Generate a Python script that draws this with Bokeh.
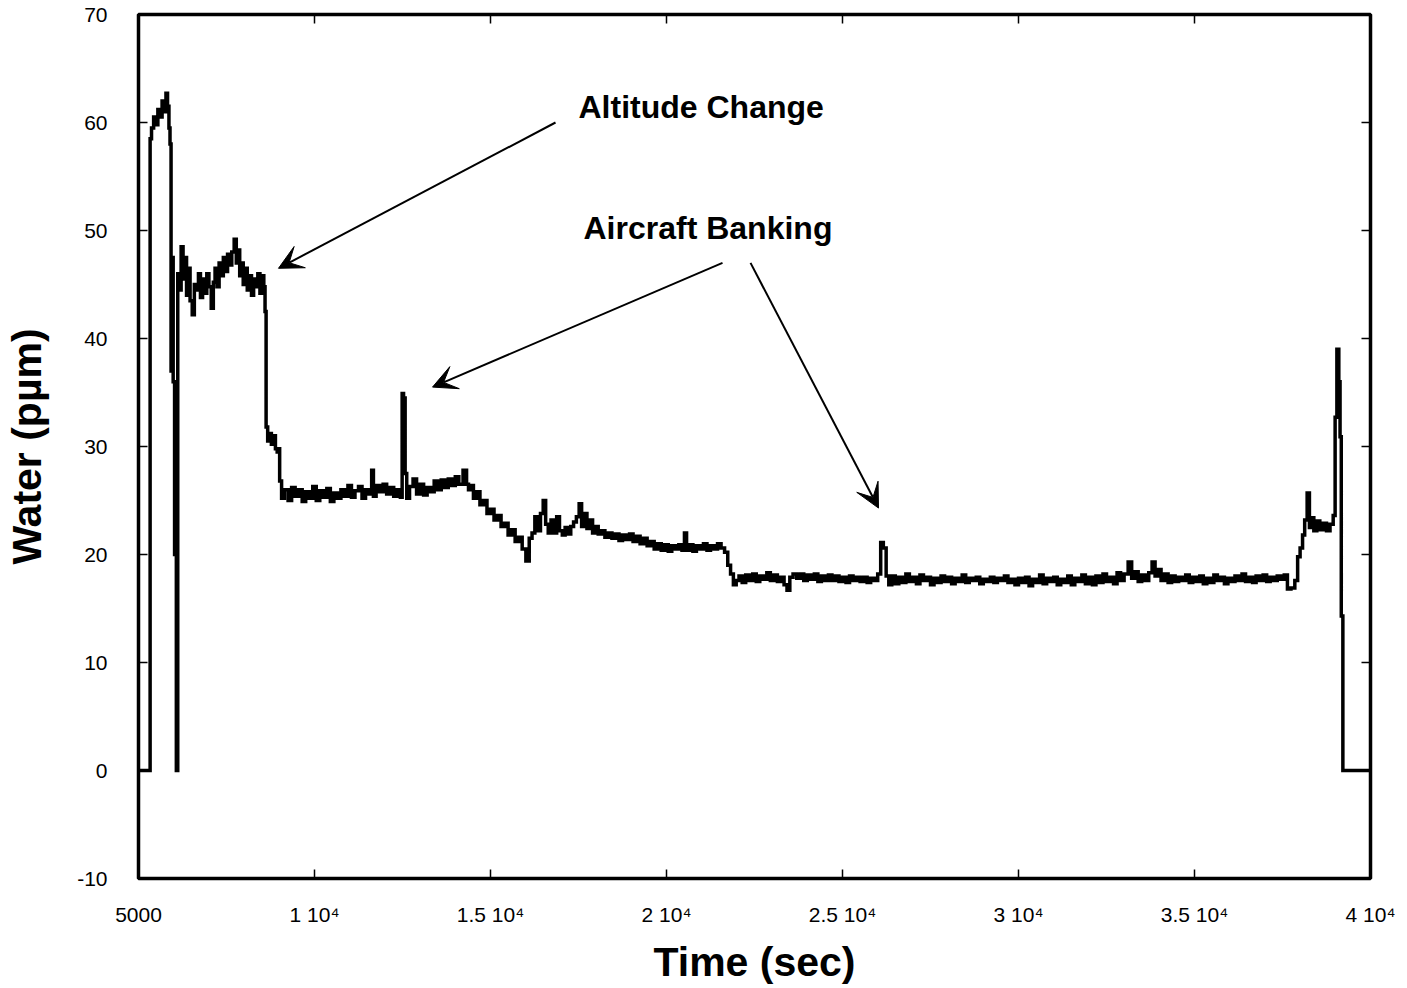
from bokeh.plotting import figure
from bokeh.models import Range1d, LinearAxis, FixedTicker, Label, Arrow, VeeHead
from bokeh.embed import file_html
from bokeh.resources import INLINE

# ---------------- data (time in s, water in ppm) ----------------
climb_t = [5000, 5320, 5340, 5400, 5460, 5520, 5580, 5640, 5700, 5760, 5800, 5850, 5880, 5910,
           5940, 5970, 6000, 6050, 6100]
climb_v = [0.0, 0.0, 58.5, 59.5, 60.5, 59.8, 61.2, 60.5, 62.0, 61.0, 62.7, 61.5, 59.5, 58.0,
           37.0, 47.5, 36.0, 20.0, 0.0]

level1_t = [6130, 6180, 6242, 6290, 6340, 6390, 6440, 6490, 6563, 6610, 6676, 6730, 6790, 6850,
            6910, 6970, 7030, 7102, 7150, 7200, 7260, 7320, 7380, 7440, 7500, 7560, 7620, 7680,
            7756, 7800, 7850, 7900, 7950, 8000, 8060, 8120, 8180, 8240, 8300, 8360, 8420, 8480,
            8540, 8580, 8610]
level1_v = [46.0, 44.5, 48.5, 45.5, 47.5, 44.0, 46.5, 43.5, 42.2, 45.0, 44.5, 46.0, 43.8, 45.5,
            44.2, 46.0, 44.8, 42.8, 45.2, 46.5, 44.8, 47.0, 45.8, 47.5, 46.2, 47.8, 46.8, 48.0,
            49.2, 47.0, 48.2, 45.8, 47.0, 45.0, 46.5, 44.5, 45.8, 44.0, 45.5, 44.8, 46.0, 44.2,
            45.8, 44.8, 42.5]

step_t = [8640, 8700, 8750, 8800, 8860, 8920, 8960, 8980, 9040]
step_v = [31.8, 30.5, 31.2, 30.2, 31.0, 29.8, 29.5, 29.8, 26.8]

level2_t = [9090, 9200, 9300, 9400, 9500, 9600, 9700, 9800, 9900, 10000, 10100, 10200, 10300,
            10400, 10500, 10600, 10700, 10800, 10900, 11000, 11100, 11200, 11300, 11400, 11500,
            11600, 11648, 11700, 11800, 11900, 12000, 12100, 12200, 12300, 12400, 12480, 12500,
            12560, 12590, 12650, 12750, 12850, 12950, 13050, 13150, 13250, 13350, 13450, 13550,
            13650, 13750, 13850, 13950, 14050, 14150, 14290, 14350]
level2_v = [25.2, 26.0, 25.0, 26.2, 25.4, 26.0, 24.9, 25.8, 25.2, 26.3, 25.0, 25.9, 25.3,
            26.1, 24.9, 25.7, 25.2, 26.0, 25.4, 26.4, 25.3, 25.9, 26.3, 25.2, 26.0,
            25.6, 27.8, 25.4, 26.4, 25.8, 26.5, 25.6, 26.2, 25.4, 26.0, 25.3, 34.9,
            34.5, 27.5, 25.2, 26.3, 27.0, 25.6, 26.5, 25.5, 26.2, 25.8, 26.8, 26.0,
            26.9, 26.2, 27.0, 26.4, 27.2, 26.5, 27.8, 26.5]

descent_t = [14400, 14480, 14550, 14650, 14750, 14850, 14950, 15050, 15150, 15250, 15350, 15450,
             15550, 15650, 15750, 15850, 15950, 16060, 16140, 16220, 16300, 16380, 16460, 16534,
             16600, 16680, 16760, 16840, 16920, 17000, 17080, 17160, 17240, 17320, 17400, 17480,
             17557, 17620, 17700, 17780, 17860, 17940, 18020, 18100, 18200, 18300, 18400, 18500,
             18600, 18700, 18800, 18900, 19000, 19100, 19200, 19300, 19400, 19500, 19600, 19700,
             19800, 19900, 20000, 20100, 20200, 20300, 20400, 20480, 20540, 20600, 20700, 20800,
             20900, 21000, 21100, 21200, 21300, 21400, 21500, 21600, 21700, 21780, 21860, 21940]
descent_v = [26.0, 26.4, 25.2, 25.8, 24.6, 25.0, 23.8, 24.2, 23.2, 23.6, 22.6, 22.9,
             21.8, 22.3, 21.2, 21.6, 20.5, 19.4, 21.5, 22.0, 23.5, 22.2, 23.8, 25.0,
             22.8, 22.0, 23.2, 22.0, 23.5, 22.2, 21.8, 22.5, 21.9, 22.6, 23.0, 23.5,
             24.7, 22.6, 23.8, 22.4, 23.2, 22.0, 22.6, 21.9, 22.2, 21.6, 22.0, 21.5,
             21.9, 21.3, 21.8, 21.4, 21.9, 21.2, 21.7, 21.0, 21.5, 20.8, 21.2, 20.5,
             21.0, 20.4, 20.9, 20.3, 20.8, 20.5, 20.9, 20.4, 22.0, 20.4, 20.9, 20.3,
             20.8, 20.5, 21.0, 20.4, 20.8, 20.5, 21.0, 20.6, 20.2, 19.0, 18.2, 17.2]

level3_t = [22020, 22100, 22200, 22300, 22400, 22500, 22600, 22700, 22800, 22900, 23000, 23100,
            23200, 23300, 23380, 23467, 23540, 23650, 23750, 23850, 23950, 24050, 24150, 24250,
            24350, 24450, 24550, 24650, 24750, 24850, 24950, 25050, 25150, 25250, 25350, 25450,
            25550, 25650, 25750, 25850, 25950, 26050, 26120, 26200, 26280, 26350, 26450, 26550,
            26650, 26750, 26850, 26950, 27050, 27150, 27250, 27350, 27450, 27550, 27650, 27750,
            27850, 27950, 28050, 28150, 28250, 28350, 28450, 28550, 28650, 28750, 28850, 28950,
            29050, 29150, 29250, 29350, 29450, 29550, 29650, 29750, 29850, 29950]
level3_v = [17.6, 18.0, 17.4, 18.1, 17.6, 18.2, 17.5, 18.0, 17.7, 18.3, 17.6, 18.1,
            17.5, 17.9, 17.2, 16.7, 17.9, 18.2, 17.8, 18.2, 17.6, 18.1, 17.7, 18.2,
            17.5, 18.0, 17.6, 18.1, 17.6, 18.0, 17.5, 17.9, 17.4, 18.0, 17.6, 17.9,
            17.5, 17.9, 17.4, 17.8, 17.6, 18.2, 21.1, 20.6, 18.0, 17.2, 18.0, 17.3,
            17.9, 17.4, 18.2, 17.5, 17.9, 17.3, 18.1, 17.6, 17.9, 17.2, 17.8, 17.4,
            18.0, 17.5, 17.9, 17.3, 17.8, 17.5, 18.1, 17.4, 17.8, 17.6, 17.9, 17.3,
            17.7, 17.5, 17.9, 17.4, 17.8, 17.6, 18.0, 17.4, 17.7, 17.2]

level4_t = [30050, 30150, 30250, 30350, 30450, 30550, 30650, 30750, 30850, 30950, 31050, 31150,
            31250, 31350, 31450, 31550, 31650, 31750, 31850, 31950, 32050, 32150, 32250, 32350,
            32450, 32550, 32650, 32750, 32850, 32950, 33050, 33180, 33250, 33350, 33450, 33550,
            33650, 33750, 33840, 33920, 34000, 34100, 34200, 34300, 34400, 34500, 34600, 34700,
            34800, 34900, 35000, 35100, 35200, 35300, 35400, 35500, 35600, 35700, 35800, 35900,
            36000, 36100, 36200, 36300, 36400, 36500, 36600, 36700, 36800, 36900, 37000, 37100,
            37200, 37300, 37400, 37500, 37600, 37680, 37800, 37900]
level4_v = [17.8, 17.4, 17.9, 17.1, 17.7, 17.4, 18.1, 17.3, 17.8, 17.5, 17.9, 17.2,
            17.7, 17.4, 18.0, 17.2, 17.8, 17.5, 18.1, 17.3, 17.9, 17.2, 18.0, 17.4,
            18.2, 17.5, 17.9, 17.3, 18.3, 17.6, 18.2, 19.3, 17.8, 18.4, 17.5, 18.1,
            17.6, 18.3, 19.3, 18.0, 18.6, 17.6, 18.2, 17.4, 18.0, 17.5, 17.9, 17.6,
            18.1, 17.4, 17.9, 17.5, 18.0, 17.3, 17.8, 17.4, 18.1, 17.6, 17.9, 17.3,
            17.8, 17.5, 18.0, 17.6, 18.2, 17.5, 17.9, 17.4, 18.0, 17.6, 18.1, 17.5,
            17.9, 17.6, 18.0, 17.7, 18.1, 16.8, 16.9, 17.6]

landing_t = [37960, 38040, 38100, 38160, 38240, 38290, 38350, 38430, 38520, 38600, 38700, 38800,
             38900, 38980, 39010, 39080, 39120, 39150, 39190, 39240, 40000]
landing_v = [19.8, 20.6, 21.8, 23.2, 25.7, 22.5, 23.4, 22.2, 23.1, 22.3, 22.9, 22.2,
             22.8, 23.6, 32.7, 39.0, 36.0, 30.9, 14.3, 0.0, 0.0]

x_ticks = [5000, 10000, 15000, 20000, 25000, 30000, 35000, 40000]
x_tick_labels = ["5000", "1 10\u2074", "1.5 10\u2074", "2 10\u2074", "2.5 10\u2074",
                 "3 10\u2074", "3.5 10\u2074", "4 10\u2074"]
y_ticks = [-10, 0, 10, 20, 30, 40, 50, 60, 70]
y_tick_labels = ["-10", "0", "10", "20", "30", "40", "50", "60", "70"]

time_s = climb_t + level1_t + step_t + level2_t + descent_t + level3_t + level4_t + landing_t
water_ppm = climb_v + level1_v + step_v + level2_v + descent_v + level3_v + level4_v + landing_v

X_MIN, X_MAX, Y_MIN, Y_MAX = 5000, 40000, -10, 70

# ---------------- figure ----------------
FONT = "Liberation Sans"
W, H = 1407, 988
BL, BR, BT, BB = 138, 37, 14, 110
p = figure(width=W, height=H, output_backend="svg", toolbar_location=None,
           x_range=Range1d(X_MIN, X_MAX), y_range=Range1d(Y_MIN, Y_MAX),
           min_border_left=BL, min_border_right=BR, min_border_top=BT, min_border_bottom=BB,
           x_axis_type=None, y_axis_type=None)
p.grid.visible = False
p.outline_line_color = "black"
p.outline_line_width = 3.5
p.background_fill_color = "white"
p.border_fill_color = "white"

TICK_PX = 9

def make_axis(ticks, labels, title):
    ax = LinearAxis(ticker=FixedTicker(ticks=ticks))
    ax.axis_line_color = None
    ax.major_tick_in = TICK_PX
    ax.major_tick_out = 0
    ax.major_tick_line_width = 1.5
    ax.major_tick_line_color = "black"
    ax.minor_tick_line_color = None
    ax.major_label_text_font = FONT
    ax.major_label_text_color = "black"
    ax.major_label_text_font_size = "21px"
    ax.major_label_overrides = {t: l for t, l in zip(ticks, labels)}
    ax.axis_label = title
    ax.axis_label_text_font = FONT
    ax.axis_label_text_font_style = "bold"
    ax.axis_label_text_font_size = "41px"
    ax.axis_label_text_color = "black"
    return ax

xb = make_axis(x_ticks, x_tick_labels, "Time (sec)")
xb.major_label_standoff = 24
xb.axis_label_standoff = 10
p.add_layout(xb, "below")
yl = make_axis(y_ticks, y_tick_labels, "Water (p\u00b5m)")
yl.major_label_standoff = 31
yl.axis_label_standoff = 24
p.add_layout(yl, "left")

# inward ticks on the top and right edges of the box
frame_w = W - BL - BR
frame_h = H - BT - BB
dy_tick = TICK_PX * (Y_MAX - Y_MIN) / frame_h
dx_tick = TICK_PX * (X_MAX - X_MIN) / frame_w
p.segment(x0=x_ticks, y0=[Y_MAX] * len(x_ticks), x1=x_ticks, y1=[Y_MAX - dy_tick] * len(x_ticks),
          line_color="black", line_width=1.5)
p.segment(x0=[X_MAX] * len(y_ticks), y0=y_ticks, x1=[X_MAX - dx_tick] * len(y_ticks), y1=y_ticks,
          line_color="black", line_width=1.5)

p.step(time_s, water_ppm, mode="center", line_color="black", line_width=3.5, line_join="miter")

# annotations
p.add_layout(Label(x=17500, y=61.4, text="Altitude Change", text_align="left",
                   text_baseline="middle", text_font=FONT, text_font_style="bold",
                   text_font_size="32px", text_color="black"))
p.add_layout(Label(x=17642, y=50.2, text="Aircraft Banking", text_align="left",
                   text_baseline="middle", text_font=FONT, text_font_style="bold",
                   text_font_size="32px", text_color="black"))

for xs, ys, xe, ye in [(16847, 60.0, 8977, 46.5), (21591, 47.0, 13353, 35.5),
                       (22387, 47.0, 26023, 24.3)]:
    p.add_layout(Arrow(x_start=xs, y_start=ys, x_end=xe, y_end=ye, line_width=2,
                       line_color="black",
                       end=VeeHead(size=24, fill_color="black", line_color="black",
                                   line_width=1)))

open("out.html", "w").write(file_html(p, INLINE))
